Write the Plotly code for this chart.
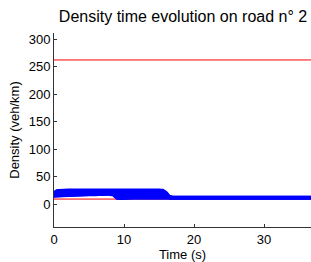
import plotly.graph_objects as go

# Data
t = [0, 0.5, 2, 4, 6, 8, 8.5, 9, 12, 15, 15.5, 16, 16.5, 17, 25, 37]
d1 = [21, 24.5, 25.5, 25.5, 25.5, 25.5, 25.5, 25.5, 25.5, 25.5, 25, 21, 14, 12.5, 12.5, 12.5]
d2 = [19, 23, 24, 24, 24, 24, 24, 24, 24, 24, 23.5, 19, 13, 12.5, 12.5, 12.5]
d3 = [17.5, 21, 22, 22, 22, 22, 22, 21.5, 21.5, 21.5, 21, 17, 12.5, 12, 12, 12]
d4 = [16, 18.5, 19.5, 20, 20, 20.5, 20.5, 18.5, 18.5, 18.5, 18, 15, 12, 11.5, 11.5, 11.5]
d5 = [15, 16.5, 17.5, 18, 18.5, 19, 19, 15.5, 15.5, 15.5, 15, 13, 11.5, 11, 11, 11]
d6 = [14.5, 15, 16, 17, 17.5, 18, 17.5, 12.5, 12.5, 12.5, 12.5, 12, 11, 11, 11, 11]
d7 = [14, 14.5, 15.5, 16.5, 17, 17.5, 16, 10.5, 10.5, 10.5, 10.5, 10.5, 10.5, 10.5, 10.5, 10.5]
density_series = [d1, d2, d3, d4, d5, d6, d7]

t_limits = [0, 37]
rho_max = [262, 262]
rho_min = [9, 9]

x_ticks = [0, 10, 20, 30]
y_ticks = [0, 50, 100, 150, 200, 250, 300]

fig = go.Figure()
fig.add_trace(go.Scatter(x=t_limits, y=rho_max, mode="lines",
                         line=dict(color="#ff0000", width=1), showlegend=False))
fig.add_trace(go.Scatter(x=t_limits, y=rho_min, mode="lines",
                         line=dict(color="#ff0000", width=1), showlegend=False))
for d in density_series:
    fig.add_trace(go.Scatter(x=t, y=d, mode="lines",
                             line=dict(color="#0000ff", width=3, shape="spline", smoothing=0.4),
                             showlegend=False))

font = "Liberation Sans, Arial, sans-serif"
fig.update_layout(
    width=311, height=262,
    margin=dict(l=54, r=0, t=33, b=35, autoexpand=False),
    paper_bgcolor="white", plot_bgcolor="white",
    font=dict(family=font, size=13, color="black"),
    title=dict(text="Density time evolution on road n° 2", x=183 / 311, xanchor="center",
               y=0.937, yanchor="middle", font=dict(size=16, family=font, color="black")),
    xaxis=dict(range=[0, 36.7], tickvals=x_ticks, ticks="inside", ticklen=3,
               showline=True, linecolor="#333333", linewidth=1, showgrid=False,
               zeroline=False, tickcolor="#333333", automargin=False,
               tickfont=dict(size=13),
               title=dict(text="Time (s)", standoff=0, font=dict(size=13))),
    yaxis=dict(range=[-41.8, 311], tickvals=y_ticks, ticks="inside", ticklen=3,
               showline=True, linecolor="#333333", linewidth=1, showgrid=False,
               zeroline=False, tickcolor="#333333", automargin=False,
               tickfont=dict(size=13),
               title=dict(text="Density (veh/km)", standoff=6, font=dict(size=13))),
)

fig.write_html("out.html", config={"displayModeBar": False},
               post_script="document.body.style.margin='0';document.body.style.overflow='hidden';")
